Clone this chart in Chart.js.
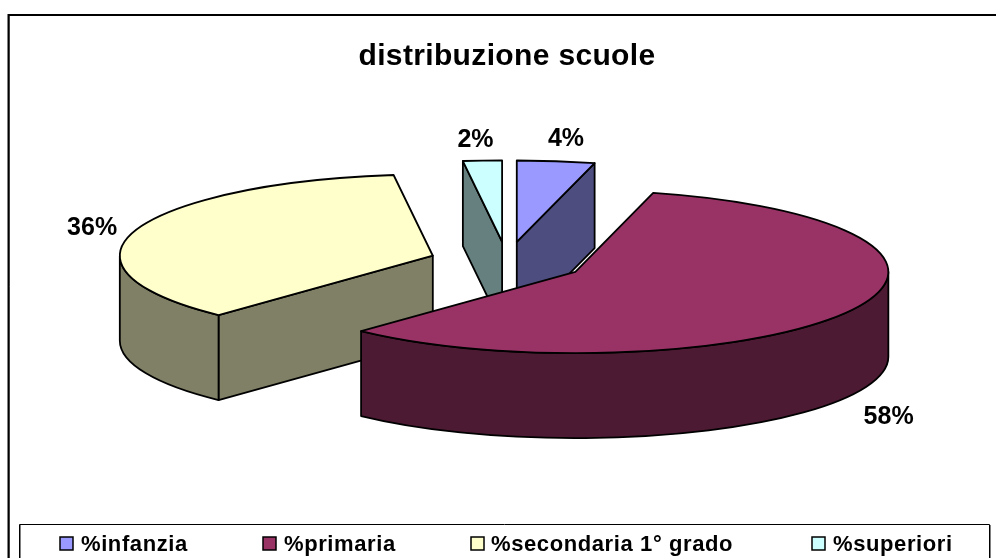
<!DOCTYPE html>
<html><head><meta charset="utf-8">
<style>html,body{margin:0;padding:0;background:#fff;overflow:hidden}canvas{display:block}</style>
<script src="https://cdn.jsdelivr.net/npm/chart.js@4"></script>
</head><body>
<canvas id="c" width="996" height="558"></canvas>
<script>
const categories = ['%infanzia', '%primaria', '%secondaria 1° grado', '%superiori'];
const values = [4, 58, 36, 2];
const topColors = ['#9999FF', '#993366', '#FFFFCC', '#CCFFFF'];
const sideColors = ['#4D4D80', '#4D1A33', '#808066', '#668080'];
const chartTitle = 'distribuzione scuole';

// 3D look of the pie
const squash = 0.26, depth = 85, explode = 78, pieRadius = 313, edge = 1.8;
const drawOrder = [2, 3, 0, 1];
const labelNudge = [[10, -22], [39, 106], [-43, -2], [-7, -20]];
const legendBoxX = [60, 263, 471, 812];
const legendTextX = [81, 284, 491, 833];

const pie3d = {
  id: 'pie3d',
  beforeLayout(chart) { chart.ctx.letterSpacing = '0.35px'; },
  beforeDraw(chart) {
    const c = chart.ctx;
    c.save();
    c.fillStyle = '#fff'; c.fillRect(0, 0, 996, 558);
    c.strokeStyle = '#808080'; c.lineWidth = 1;
    c.beginPath(); c.moveTo(9.5, 15); c.lineTo(9.5, 558); c.stroke();
    c.beginPath(); c.moveTo(20.5, 525); c.lineTo(20.5, 558); c.moveTo(990.5, 525); c.lineTo(990.5, 558); c.stroke();
    c.strokeStyle = '#000'; c.lineWidth = 2;
    c.beginPath(); c.moveTo(996, 15); c.lineTo(8.5, 15); c.lineTo(8.5, 558); c.stroke();
    c.lineWidth = 1;
    c.beginPath(); c.moveTo(19.5, 558); c.lineTo(19.5, 524.5); c.lineTo(989.5, 524.5); c.lineTo(989.5, 558); c.stroke();
    // legend row
    c.letterSpacing = '0.6px';
    c.font = 'bold 22px "Liberation Sans", Arial, sans-serif';
    c.textAlign = 'left'; c.textBaseline = 'middle';
    categories.forEach((t, i) => {
      c.fillStyle = topColors[i]; c.strokeStyle = '#000'; c.lineWidth = 1.5;
      c.fillRect(legendBoxX[i], 537, 13, 13); c.strokeRect(legendBoxX[i], 537, 13, 13);
      c.fillStyle = '#000';
      c.fillText(t, legendTextX[i], 545);
    });
    c.restore();
  },
  beforeDatasetsDraw(chart) {
    const c = chart.ctx, arcs = chart.getDatasetMeta(0).data;
    const place = arc => {
      const mid = (arc.startAngle + arc.endAngle) / 2;
      return { x: arc.x + Math.cos(mid) * explode, y: arc.y + Math.sin(mid) * explode * squash, mid };
    };
    const rim = (p, R, a) => [p.x + R * Math.cos(a), p.y + squash * R * Math.sin(a)];
    const style = i => { c.fillStyle = sideColors[i]; c.strokeStyle = '#000'; c.lineWidth = edge; c.lineJoin = 'round'; };

    drawOrder.forEach(i => {
      const arc = arcs[i], p = place(arc), R = arc.outerRadius;
      // flat cut faces
      [[arc.startAngle, 0.01], [arc.endAngle, -0.01]].forEach(([a, eps]) => {
        const e = [R * Math.cos(a), squash * R * Math.sin(a)];
        const inn = [R * Math.cos(a + eps), squash * R * Math.sin(a + eps)];
        let n = [-e[1], e[0]];
        if (n[0] * inn[0] + n[1] * inn[1] > 0) n = [-n[0], -n[1]];
        if (n[1] <= 1e-6) return;
        style(i);
        const q = rim(p, R, a);
        c.beginPath();
        c.moveTo(p.x, p.y); c.lineTo(q[0], q[1]);
        c.lineTo(q[0], q[1] + depth); c.lineTo(p.x, p.y + depth);
        c.closePath(); c.fill(); c.stroke();
      });
      // curved outer wall (front half only)
      const a0 = Math.max(arc.startAngle, 0), a1 = Math.min(arc.endAngle, Math.PI);
      if (a1 > a0) {
        style(i);
        c.beginPath();
        c.ellipse(p.x, p.y, R, R * squash, 0, a0, a1, false);
        c.ellipse(p.x, p.y + depth, R, R * squash, 0, a1, a0, true);
        c.closePath(); c.fill(); c.stroke();
      }
      // top face: the library's own arc element, flattened
      c.save();
      c.translate(p.x, p.y); c.scale(1, squash); c.translate(-arc.x, -arc.y);
      arc.draw(c);
      c.restore();
      c.strokeStyle = '#000'; c.lineWidth = edge; c.lineJoin = 'round';
      c.beginPath();
      c.moveTo(p.x, p.y);
      c.ellipse(p.x, p.y, R, R * squash, 0, arc.startAngle, arc.endAngle, false);
      c.closePath(); c.stroke();
    });

    // data labels
    c.save();
    c.letterSpacing = '0px';
    c.font = 'bold 25px "Liberation Sans", Arial, sans-serif';
    c.fillStyle = '#000'; c.textAlign = 'center'; c.textBaseline = 'middle';
    arcs.forEach((arc, i) => {
      const p = place(arc), q = rim(p, arc.outerRadius, p.mid);
      c.fillText(values[i] + '%', q[0] + labelNudge[i][0], q[1] + labelNudge[i][1]);
    });
    c.restore();
    return false;
  }
};

new Chart(document.getElementById('c'), {
  type: 'pie',
  data: {
    labels: categories,
    datasets: [{ data: values, backgroundColor: topColors, borderWidth: 0, hoverOffset: 0 }]
  },
  plugins: [pie3d],
  options: {
    responsive: false,
    animation: false,
    radius: pieRadius,
    layout: { padding: { left: 18, right: 0, top: 0, bottom: 109 } },
    plugins: {
      tooltip: { enabled: false },
      legend: { display: false },
      title: {
        display: true, text: chartTitle, color: '#000',
        font: { family: '"Liberation Sans", Arial, sans-serif', size: 30, weight: 'bold', lineHeight: 1.2 },
        padding: { top: 39, bottom: 0 }
      }
    }
  }
});
</script>
</body></html>
